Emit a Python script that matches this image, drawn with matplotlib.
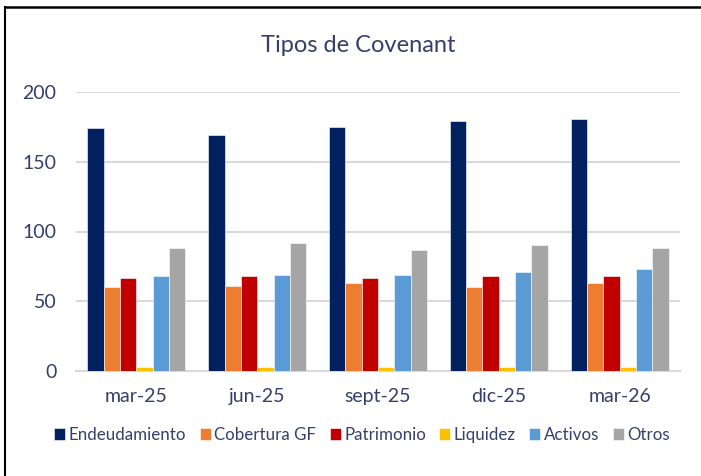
import matplotlib
matplotlib.use("Agg")
import matplotlib.pyplot as plt
import numpy as np
from matplotlib.lines import Line2D

categories = ["mar-25", "jun-25", "sept-25", "dic-25", "mar-26"]
series_names = ["Endeudamiento", "Cobertura GF", "Patrimonio", "Liquidez", "Activos", "Otros"]
endeudamiento = [174, 169, 175, 179, 181]
cobertura_gf = [60, 61, 63, 60, 63]
patrimonio = [67, 68, 67, 68, 68]
liquidez = [3, 3, 3, 3, 3]
activos = [68, 69, 69, 71, 73]
otros = [88, 92, 87, 90, 88]
yticks = [0, 50, 100, 150, 200]

series = [endeudamiento, cobertura_gf, patrimonio, liquidez, activos, otros]
colors = ["#002060", "#ED7D31", "#C00000", "#FFC000", "#5B9BD5", "#A5A5A5"]
text_color = "#353E6C"

plt.rcParams['font.family'] = ['Lato', 'DejaVu Sans']

fig = plt.figure(figsize=(7.01, 4.76), dpi=100)
ax = fig.add_axes([76/701, 1-371/476, (680-76)/701, (371-92)/476])

x = np.arange(len(categories))
w = 0.135
for i, (name, vals, c) in enumerate(zip(series_names, series, colors)):
    ax.bar(x + (i - 2.5) * w, vals, w, color=c, label=name, edgecolor="white", linewidth=0.4, zorder=3)

ax.set_xlim(-0.5, len(categories) - 0.5)
ax.set_ylim(0, 200)
ax.set_yticks(yticks)
ax.set_xticks(x)
ax.set_xticklabels(categories)
ax.grid(axis="y", color="#D9D9D9", linewidth=1.5, zorder=0)
ax.set_axisbelow(True)
for s in ["top", "right", "left"]:
    ax.spines[s].set_visible(False)
ax.spines["bottom"].set_color("#D9D9D9")
ax.spines["bottom"].set_linewidth(1.5)
ax.tick_params(axis="y", length=0, pad=14, labelsize=14, labelcolor=text_color)
ax.tick_params(axis="x", length=0, pad=12, labelsize=14, labelcolor=text_color)

fig.text(358/701, 1-45/476, "Tipos de Covenant", ha="center", va="center",
         fontsize=17, color=text_color)

leg = fig.legend(loc="center", bbox_to_anchor=(362/701, 1-435/476), ncol=6, frameon=False,
                 fontsize=12.2, handlelength=0.65, handleheight=0.65, handletextpad=0.2,
                 columnspacing=0.8, labelcolor=text_color)

fig.add_artist(Line2D([5/701, 1], [1-7/476, 1-7/476], color="black", linewidth=1.8, transform=fig.transFigure))
fig.add_artist(Line2D([5/701, 5/701], [0, 1-7/476], color="black", linewidth=1.5, transform=fig.transFigure))

fig.savefig("out.png", dpi=100, facecolor="white")
